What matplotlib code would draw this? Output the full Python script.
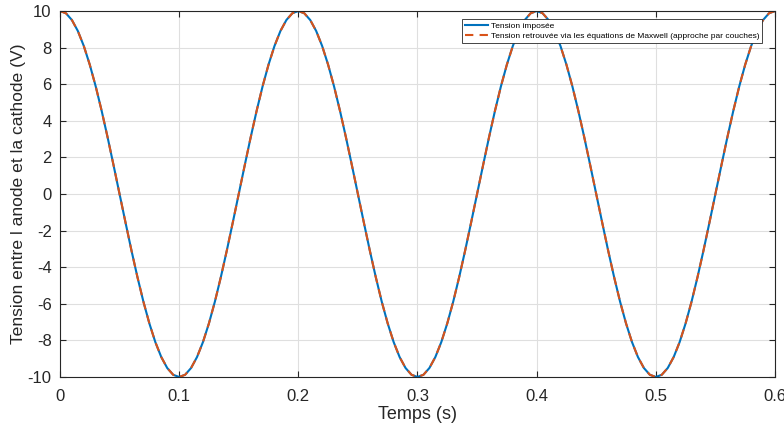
import numpy as np
import matplotlib
matplotlib.use("Agg")
import matplotlib.pyplot as plt

plt.rcParams['font.family'] = ['Liberation Sans', 'DejaVu Sans']
plt.rcParams['axes.unicode_minus'] = False

# time samples (s), step 5 ms
temps = np.arange(121) * 0.005

# one period of the voltage (V), repeated 3 times
periode = [10, 9.88, 9.51, 8.91, 8.09, 7.07, 5.88, 4.54, 3.09, 1.56,
           0, -1.56, -3.09, -4.54, -5.88, -7.07, -8.09, -8.91, -9.51, -9.88,
           -10, -9.88, -9.51, -8.91, -8.09, -7.07, -5.88, -4.54, -3.09, -1.56,
           0, 1.56, 3.09, 4.54, 5.88, 7.07, 8.09, 8.91, 9.51, 9.88]
tension_imposee = periode * 3 + [10]
tension_maxwell = list(tension_imposee)

xticks = [0, 0.1, 0.2, 0.3, 0.4, 0.5, 0.6]
xlabels = ['0', '0.1', '0.2', '0.3', '0.4', '0.5', '0.6']
yticks = list(range(-10, 11, 2))

fig = plt.figure(figsize=(7.84, 4.30), dpi=100)
ax = fig.add_axes([0.0765, 0.1233, 0.912, 0.851])

ax.plot(temps, tension_imposee, color='#0072BD', lw=1.5, label='Tension imposée')
ax.plot(temps, tension_maxwell, color='#D95319', lw=1.5, ls=(0, (4, 3)),
        label='Tension retrouvée via les équations de Maxwell (approche par couches)')

ax.set_xlim(0, 0.6)
ax.set_ylim(-10, 10)
ax.set_xticks(xticks)
ax.set_xticklabels(xlabels)
ax.set_yticks(yticks)
ax.grid(True, color='#dfdfdf', lw=0.8)
ax.set_axisbelow(True)
ax.tick_params(direction='in', top=True, right=True, labelsize=12,
               colors='#262626', length=4, width=0.8)
ax.tick_params(axis='x', pad=9)
ax.tick_params(axis='y', pad=6)
for s in ax.spines.values():
    s.set_color('#262626')
    s.set_linewidth(0.8)

ax.set_xlabel('Temps (s)', fontsize=13, color='#262626', labelpad=1)
ax.set_ylabel("Tension entre l anode et la cathode (V)", fontsize=12.6,
              color='#262626', labelpad=1)

leg = ax.legend(loc='upper right', bbox_to_anchor=(0.988, 0.99), fontsize=6,
                fancybox=False, framealpha=1, edgecolor='#262626',
                borderpad=0.35, labelspacing=0.3, handlelength=2.8, handletextpad=0.3)
leg.get_frame().set_linewidth(0.6)

fig.savefig('out.png', dpi=100)
